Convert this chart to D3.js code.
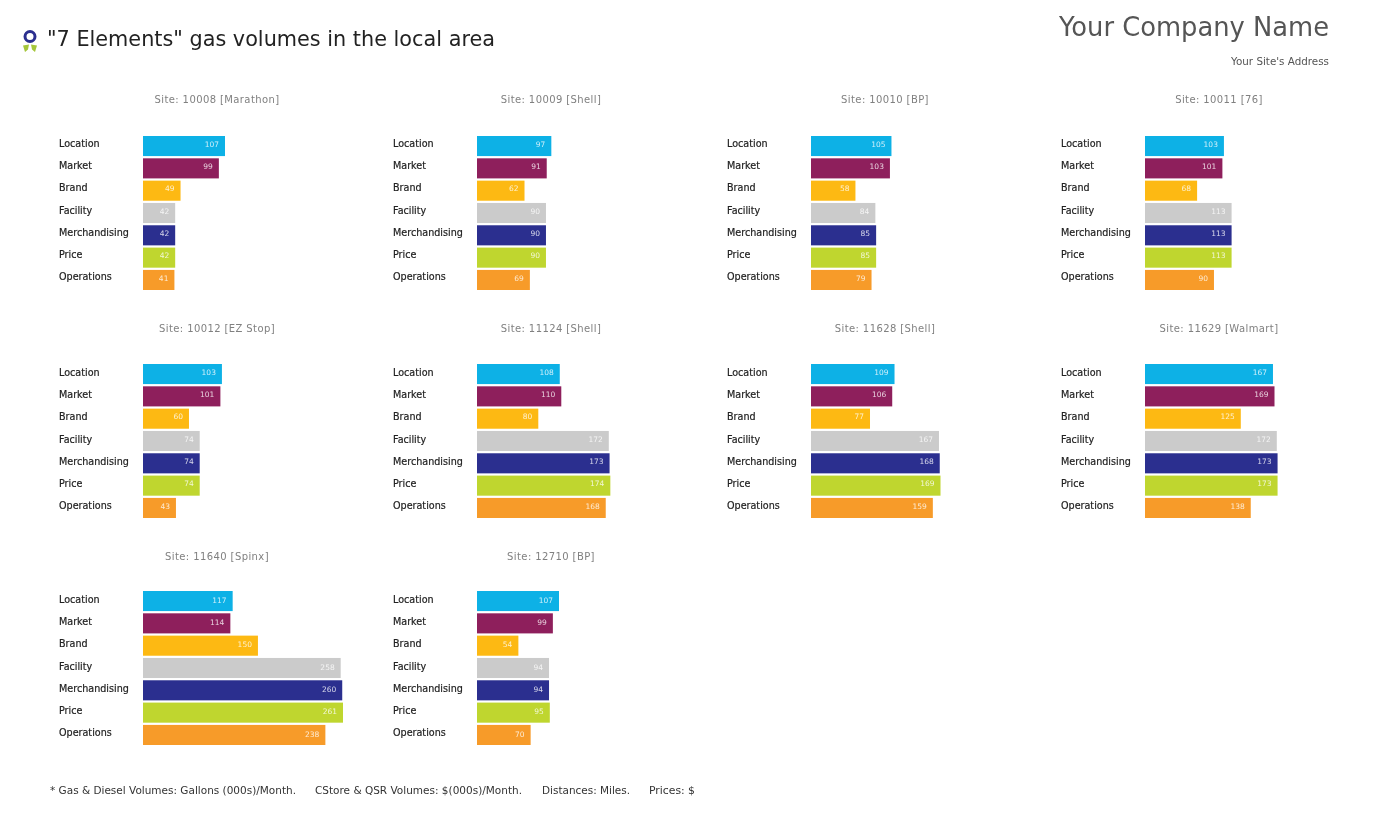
<!DOCTYPE html>
<html>
<head>
<meta charset="utf-8">
<script src="https://cdn.jsdelivr.net/npm/d3@7"></script>
<style>
  body { margin: 0; background: #fff; }
  svg { display: block; filter: blur(0.35px); }
  text { font-family: "DejaVu Sans", sans-serif; }
  .domain, .tick line { display: none; }
</style>
</head>
<body>
<svg width="1386" height="825"></svg>
<script>
const elements = ['Location', 'Market', 'Brand', 'Facility', 'Merchandising', 'Price', 'Operations'];
const elementColors = ['#0db1e6', '#8e1f5c', '#fdb913', '#cbcbcb', '#2b2f8f', '#bfd62f', '#f79b29'];

const siteNames = [
  'Site: 10008 [Marathon]', 'Site: 10009 [Shell]', 'Site: 10010 [BP]', 'Site: 10011 [76]',
  'Site: 10012 [EZ Stop]', 'Site: 11124 [Shell]', 'Site: 11628 [Shell]', 'Site: 11629 [Walmart]',
  'Site: 11640 [Spinx]', 'Site: 12710 [BP]'
];

const site10008 = [107, 99, 49, 42, 42, 42, 41];
const site10009 = [97, 91, 62, 90, 90, 90, 69];
const site10010 = [105, 103, 58, 84, 85, 85, 79];
const site10011 = [103, 101, 68, 113, 113, 113, 90];
const site10012 = [103, 101, 60, 74, 74, 74, 43];
const site11124 = [108, 110, 80, 172, 173, 174, 168];
const site11628 = [109, 106, 77, 167, 168, 169, 159];
const site11629 = [167, 169, 125, 172, 173, 173, 138];
const site11640 = [117, 114, 150, 258, 260, 261, 238];
const site12710 = [107, 99, 54, 94, 94, 95, 70];

const siteValues = [
  site10008, site10009, site10010, site10011, site10012,
  site11124, site11628, site11629, site11640, site12710
];

const footerNotes = [
  '* Gas & Diesel Volumes: Gallons (000s)/Month.',
  'CStore & QSR Volumes: $(000s)/Month.',
  'Distances: Miles.',
  'Prices: $'
];

const colX = [59, 393, 727, 1061];
const rowY = [136, 364, 591];
const titleY = [103, 332, 560];
const labelShift = [1, 2, 2];
const valueShift = [-2, -2, -1];
const labelWidth = 84;
const footerX = [50, 315, 542, 649];
const footerLen = [246, 207, 88, 46];

const svg = d3.select('svg');

// same scale on every panel, the bars are comparable across sites
const x = d3.scaleLinear().domain([0, 261]).range([0, 200]);
const y = d3.scaleBand().domain(elements).range([0, 154]).paddingInner(0.1);

// header
const logo = svg.append('g').attr('transform', 'translate(30,36.5)');
logo.append('path').attr('d', 'M-1,8 L-7,9 L-5,15.5 L-2,13 Z M1,8 L7,9 L5,15.5 L2,13 Z').attr('fill', '#a5c63b');
logo.append('circle').attr('r', 5).attr('fill', 'none').attr('stroke', '#2b2f8f').attr('stroke-width', 3);

svg.append('text')
  .attr('x', 47).attr('y', 46)
  .attr('font-size', 21.5).attr('fill', '#222')
  .attr('textLength', 448).attr('lengthAdjust', 'spacingAndGlyphs')
  .text('"7 Elements" gas volumes in the local area');

svg.append('text')
  .attr('x', 1329).attr('y', 36)
  .attr('text-anchor', 'end')
  .attr('font-size', 26.5).attr('fill', '#555')
  .attr('textLength', 270).attr('lengthAdjust', 'spacingAndGlyphs')
  .text('Your Company Name');

svg.append('text')
  .attr('x', 1329).attr('y', 65)
  .attr('text-anchor', 'end')
  .attr('font-size', 10).attr('fill', '#555')
  .attr('textLength', 98).attr('lengthAdjust', 'spacingAndGlyphs')
  .text("Your Site's Address");

siteValues.forEach((values, idx) => {
  const row = Math.floor(idx / 4);
  const left = colX[idx % 4];
  const top = rowY[row];
  const panel = svg.append('g').attr('transform', `translate(${left},${top})`);

  panel.append('text')
    .attr('x', 158).attr('y', titleY[row] - top)
    .attr('text-anchor', 'middle')
    .attr('font-size', 10).attr('fill', '#808080')
    .attr('letter-spacing', 0.4)
    .text(siteNames[idx]);

  // row labels come from the band axis, shifted back to the left edge
  const axis = panel.append('g')
    .attr('transform', `translate(${labelWidth},${labelShift[row]})`)
    .call(d3.axisLeft(y).tickSize(0).tickPadding(0));
  axis.selectAll('text')
    .attr('x', -labelWidth)
    .attr('dy', '-0.05em')
    .attr('text-anchor', 'start')
    .attr('font-size', 9.6)
    .attr('font-family', '"DejaVu Sans Condensed", "DejaVu Sans", sans-serif')
    .attr('fill', '#222')
    .attr('stroke', '#222')
    .attr('stroke-width', 0.2);

  const bars = panel.append('g').attr('transform', `translate(${labelWidth},0)`);

  bars.selectAll('rect')
    .data(values)
    .join('rect')
    .attr('x', 0)
    .attr('y', (d, i) => y(elements[i]))
    .attr('width', (d) => x(d))
    .attr('height', y.bandwidth())
    .attr('fill', (d, i) => elementColors[i]);

  bars.selectAll('text')
    .data(values)
    .join('text')
    .attr('x', (d) => x(d) - 6)
    .attr('y', (d, i) => y(elements[i]) + y.bandwidth() / 2 + valueShift[row])
    .attr('dy', '0.35em')
    .attr('text-anchor', 'end')
    .attr('font-size', 7.5)
    .attr('fill', '#fff')
    .attr('fill-opacity', 0.8)
    .text((d) => d);
});

svg.selectAll('.footer')
  .data(footerNotes)
  .join('text')
  .attr('class', 'footer')
  .attr('x', (d, i) => footerX[i])
  .attr('y', 794)
  .attr('font-size', 10)
  .attr('fill', '#333')
  .attr('textLength', (d, i) => footerLen[i])
  .attr('lengthAdjust', 'spacingAndGlyphs')
  .text((d) => d);
</script>
</body>
</html>
